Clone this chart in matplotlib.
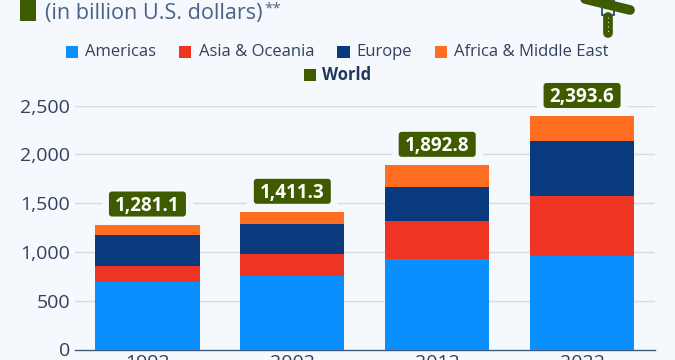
import matplotlib
matplotlib.use("Agg")
import matplotlib.pyplot as plt
from matplotlib.patches import Rectangle, FancyBboxPatch

years = ["1992", "2002", "2012", "2022"]
americas = [693, 751, 925, 963]
asia = [161, 225, 396, 611]
europe = [324, 315, 345, 564]
africa = [103.1, 120.3, 226.8, 255.6]
world = [1281.1, 1411.3, 1892.8, 2393.6]
world_labels = ["1,281.1", "1,411.3", "1,892.8", "2,393.6"]
yticks = [0, 500, 1000, 1500, 2000, 2500]
ytick_labels = ["0", "500", "1,000", "1,500", "2,000", "2,500"]
series = [("Americas", americas, "#0A8FFF"), ("Asia & Oceania", asia, "#EE3524"),
          ("Europe", europe, "#0A3A7E"), ("Africa & Middle East", africa, "#FF6D20")]
GREEN = "#3F5B00"; BG = "#F5F8FC"; TXT = "#33415C"

plt.rcParams["font.family"] = ["Open Sans", "DejaVu Sans"]
W, H = 675, 360
fig = plt.figure(figsize=(W/100, H/100), dpi=100, facecolor=BG)
ax = fig.add_axes([75/W, 1-349.5/H, (654.5-75)/W, (349.5-105.6)/H], facecolor=BG)
ax.set_xlim(-0.5, 3.5); ax.set_ylim(0, 2500)
ax.set_yticks(yticks); ax.set_yticklabels(ytick_labels, fontsize=14, color=TXT)
ax.set_xticks(range(4)); ax.set_xticklabels(years, fontsize=14, color=TXT)
ax.tick_params(length=0)
ax.tick_params(axis="y", pad=3.5)
ax.tick_params(axis="x", pad=3)
for s in ["top", "left", "right"]:
    ax.spines[s].set_visible(False)
ax.spines["bottom"].set_color("#3F5A7A"); ax.spines["bottom"].set_linewidth(1)
ax.grid(axis="y", color="#D5DAE3", lw=1); ax.set_axisbelow(True)
ax.get_ygridlines()[0].set_visible(False)
bottom = [0, 0, 0, 0]
x = list(range(4))
for name, vals, c in series:
    ax.bar(x, vals, 0.72, bottom=bottom, color=c, zorder=3)
    bottom = [b+v for b, v in zip(bottom, vals)]

# value badges: sizes given in pixels, converted to data units
px_x = 4 / (654.5 - 75)
px_y = 2500 / (349.5 - 105.6)
aspect = px_y / px_x
for i, (v, l) in enumerate(zip(world, world_labels)):
    gap, bw, bh, halo = 8, 77, 25, 7
    y0 = v + gap * px_y
    ax.add_patch(Rectangle((i - (bw/2 + halo) * px_x, y0 - 2 * px_y), (bw + 2*halo) * px_x, (bh + 4) * px_y,
                           fc=BG, ec="none", zorder=2, clip_on=False))
    ax.add_patch(FancyBboxPatch((i - bw/2 * px_x, y0), bw * px_x, bh * px_y,
                                boxstyle=f"round,pad=0,rounding_size={3*px_x}", mutation_aspect=aspect,
                                fc=GREEN, ec="none", zorder=5, clip_on=False))
    ax.annotate(l, (i, y0 + (bh/2 + 0.7) * px_y), ha="center", va="center_baseline",
                fontsize=13.5, fontweight="bold", color="white", zorder=6, annotation_clip=False)

def legend_item(px, py, label, c, bold=False):
    fig.patches.append(Rectangle((px/W, 1-(py+6)/H), 12.5/W, 12/H, transform=fig.transFigure, fc=c, ec="none"))
    fig.text((px+19.5)/W if not bold else (px+19)/W, 1-py/H, label, fontsize=12, color=TXT if not bold else "#22375A",
             va="center", fontweight="bold" if bold else "normal")
items = [(65.5, "Americas", "#0A8FFF"), (179, "Asia & Oceania", "#EE3524"),
         (337, "Europe", "#0A3A7E"), (434.5, "Africa & Middle East", "#FF6D20")]
for px, l, c in items:
    legend_item(px, 51.5, l, c)
legend_item(303.5, 75, "World", GREEN, bold=True)

# Title fragment
fig.patches.append(Rectangle((20.3/W, 1-21.3/H), 15.7/W, 21.3/H, transform=fig.transFigure, fc=GREEN, ec="none"))
fig.text(45/W, 1-14/H, "(in billion U.S. dollars)", fontsize=15.6, color="#4A6285", va="center")
fig.text(264/W, 1-9/H, "**", fontsize=11, color="#4A6285", va="center")

# Icon fragment
ov = fig.add_axes([0, 0, 1, 1], facecolor="none"); ov.set_xlim(0, W); ov.set_ylim(H, 0); ov.axis("off")
ov.add_patch(Rectangle((601.5, 0), 12, 14.5, fc=BG, ec="#2B4A7A", lw=1.3, zorder=1))
ov.plot([577, 630], [-3, 10], color=GREEN, lw=7, solid_capstyle="round", zorder=2)
ov.plot([608, 608], [17, 33], color=GREEN, lw=7, solid_capstyle="round", zorder=2)
ov.plot([608, 608], [17, 34], color="#DDE8C0", lw=0.8, ls=(0, (1, 3)), zorder=3)
fig.savefig("out.png", dpi=100, facecolor=BG)
